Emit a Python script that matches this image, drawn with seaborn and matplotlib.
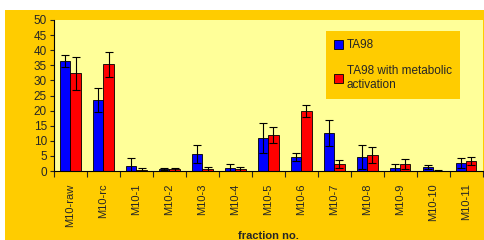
import numpy as np
import pandas as pd
import matplotlib
matplotlib.use("Agg")
import matplotlib.pyplot as plt
import seaborn as sns

fractions = ["M10-raw", "M10-rc", "M10-1", "M10-2", "M10-3", "M10-4", "M10-5",
             "M10-6", "M10-7", "M10-8", "M10-9", "M10-10", "M10-11"]
ta98 = [36.3, 23.5, 1.8, 0.7, 5.7, 1.1, 10.9, 4.7, 12.6, 4.7, 1.1, 1.3, 2.6]
ta98_err = [2.0, 3.9, 2.6, 0.4, 2.9, 1.2, 4.9, 1.3, 4.3, 3.9, 1.2, 0.7, 1.7]
ta98_s9 = [32.3, 35.3, 0.4, 0.5, 0.7, 0.7, 11.9, 19.9, 2.3, 5.3, 2.3, 0.1, 3.3]
ta98_s9_err = [5.6, 4.2, 0.7, 0.4, 0.7, 0.7, 2.6, 1.9, 1.3, 2.6, 1.8, 0.1, 1.4]
series = ["TA98", "TA98 with metabolic\nactivation"]

df = pd.DataFrame({
    "fraction": fractions * 2,
    "value": ta98 + ta98_s9,
    "err": ta98_err + ta98_s9_err,
    "strain": [series[0]] * len(fractions) + [series[1]] * len(fractions),
})

sns.set_style("white")
plt.rcParams["font.family"] = ["Liberation Sans", "DejaVu Sans"]

gold = "#FFCC00"
fig = plt.figure(figsize=(4.84, 2.40), dpi=100, facecolor="white")
fig.patches.append(plt.Rectangle((5 / 484, 0), 1, 230 / 240, transform=fig.transFigure,
                                 facecolor=gold, edgecolor="none", zorder=-10))
ax = fig.add_axes([54 / 484, 69 / 240, 428.7 / 484, 151 / 240])
ax.set_zorder(1)
ax.set_facecolor("#FFFF99")

sns.barplot(data=df, x="fraction", y="value", hue="strain", order=fractions,
            hue_order=series, palette=["#0000FF", "#FF0000"], saturation=1,
            width=0.62, edgecolor="black", linewidth=0.6, errorbar=None, ax=ax)

# error bars at bar centres
for cont, s in zip(ax.containers, series):
    sub = df[df["strain"] == s].set_index("fraction").loc[fractions]
    xs = [p.get_x() + p.get_width() / 2 for p in cont.patches]
    ax.errorbar(xs, sub["value"], yerr=sub["err"], fmt="none", ecolor="black",
                elinewidth=0.8, capsize=3, capthick=0.8, zorder=5)

ax.set_ylim(0, 50)
ax.set_xlim(-0.5, len(fractions) - 0.5)
ax.set_yticks(range(0, 51, 5))
ax.tick_params(axis="y", labelsize=8.5, length=3, width=0.8, left=True, pad=2)
ax.set_xticks(np.arange(len(fractions)))
ax.set_xticklabels(fractions, rotation=90, fontsize=8)
ax.tick_params(axis="x", length=0, pad=9)
# minor ticks at category borders
ax.set_xticks(np.arange(-0.5, len(fractions)), minor=True)
ax.tick_params(axis="x", which="minor", length=4, width=0.8, bottom=True, direction="out")

for side in ["top", "right"]:
    ax.spines[side].set_visible(False)
ax.spines["left"].set_color("black")
ax.spines["bottom"].set_color("black")
ax.spines["left"].set_linewidth(0.8)
ax.spines["bottom"].set_linewidth(0.8)

ax.set_ylabel("")
ax.set_xlabel("fraction no.", fontsize=8, fontweight="bold", labelpad=3)

leg = ax.legend(loc="upper left", bbox_to_anchor=(0.62, 0.965), fontsize=8.5,
                frameon=True, facecolor=gold, edgecolor="none", framealpha=1,
                handlelength=0.8, handleheight=0.8, handletextpad=0.3,
                labelspacing=1.15, borderpad=0.7, fancybox=False, title=None)
for h in leg.legend_handles:
    h.set_edgecolor("black")
    h.set_linewidth(0.6)

fig.savefig("out.png", dpi=100, facecolor=fig.get_facecolor())
